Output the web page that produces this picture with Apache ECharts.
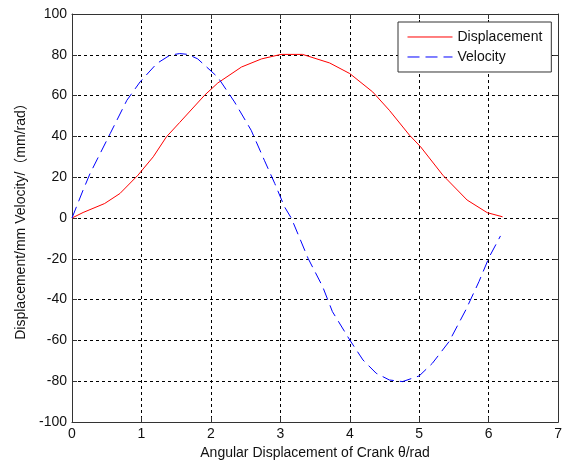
<!DOCTYPE html>
<html>
<head>
<meta charset="utf-8">
<script src="https://cdn.jsdelivr.net/npm/echarts@6/dist/echarts.min.js"></script>
<style>
html,body{margin:0;padding:0;background:#fff;}
#chart{width:565px;height:465px;}
</style>
</head>
<body>
<div id="chart"></div>
<script>
// Displacement curve (theta in rad, displacement in mm)
var dispTheta = [0, 0.16, 0.47, 0.69, 0.95, 1.17, 1.36, 1.55, 1.91, 2.10, 2.44, 2.73, 3.01, 3.32, 3.71, 4.0, 4.33, 4.57, 4.86, 5.02, 5.34, 5.69, 5.98, 6.2];
var dispValues = [0, 2.7, 7.1, 12, 21, 30, 39.8, 46.8, 60.2, 66.2, 74, 78, 80.2, 80.2, 76, 70.8, 61.8, 52.8, 40.6, 34.9, 21, 8.8, 2.6, 0.6];
// Velocity curve (theta in rad, velocity in mm/rad)
var velTheta = [0, 0.16, 0.26, 0.55, 0.79, 0.98, 1.22, 1.41, 1.55, 1.67, 1.81, 2.10, 2.34, 2.58, 2.77, 2.92, 3.06, 3.16, 3.40, 3.61, 3.75, 4.0, 4.19, 4.38, 4.57, 4.76, 5.0, 5.19, 5.43, 5.67, 5.86, 6.01, 6.17];
var velValues = [0, 13.7, 21.8, 41.4, 57.7, 66.7, 75.7, 79.8, 80.6, 80.2, 78, 69, 56.9, 43, 28.3, 16.9, 5.5, -0.2, -19.8, -33.7, -45.9, -59.8, -69.6, -76.1, -79.4, -80.2, -77.4, -71.2, -60.6, -45.1, -31.2, -19, -8.8];
var seriesNames = ['Displacement', 'Velocity'];
var xTicks = [0, 1, 2, 3, 4, 5, 6, 7];
var yTicks = [-100, -80, -60, -40, -20, 0, 20, 40, 60, 80, 100];
var xAxisName = 'Angular Displacement of Crank θ/rad';
var yAxisName = 'Displacement/mm Velocity/（mm/rad）';

function pairs(xs, ys) { return xs.map(function (x, i) { return [x, ys[i]]; }); }

var FONT = '"Liberation Sans", Arial, "Noto Sans CJK SC", sans-serif';
var frameColor = '#333';
var chart = echarts.init(document.getElementById('chart'), null, {renderer: 'canvas'});
var gridLine = {show: true, lineStyle: {color: '#000', type: [3, 3], width: 1}};
var option = {
  backgroundColor: '#fff',
  animation: false,
  textStyle: {fontFamily: FONT},
  grid: {left: 72, right: 6, top: 14, bottom: 43, containLabel: false},
  legend: {
    orient: 'vertical',
    left: 398, top: 22,
    padding: [8, 9, 8, 9],
    itemGap: 6,
    itemWidth: 45, itemHeight: 14,
    borderColor: '#333', borderWidth: 1,
    backgroundColor: '#fff',
    itemStyle: {opacity: 0},
    lineStyle: {width: 1},
    textStyle: {fontSize: 14, color: '#111', fontFamily: FONT},
    data: seriesNames
  },
  xAxis: [{
    type: 'value', min: xTicks[0], max: xTicks[xTicks.length - 1], interval: 1,
    position: 'bottom',
    axisLine: {show: true, onZero: false, lineStyle: {color: frameColor, width: 1}},
    axisTick: {show: true, inside: true, length: 5, lineStyle: {color: frameColor}},
    axisLabel: {fontSize: 14, color: '#111', margin: 5, fontFamily: FONT},
    splitLine: gridLine,
    name: xAxisName, nameLocation: 'middle', nameGap: 24,
    nameTextStyle: {fontSize: 14, color: '#111', fontFamily: FONT}
  }, {
    type: 'value', min: xTicks[0], max: xTicks[xTicks.length - 1], interval: 1,
    position: 'top',
    axisLine: {show: true, onZero: false, lineStyle: {color: frameColor, width: 1}},
    axisTick: {show: true, inside: true, length: 5, lineStyle: {color: frameColor}},
    axisLabel: {show: false},
    splitLine: {show: false}
  }],
  yAxis: [{
    type: 'value', min: yTicks[0], max: yTicks[yTicks.length - 1], interval: 20,
    position: 'left',
    axisLine: {show: true, onZero: false, lineStyle: {color: frameColor, width: 1}},
    axisTick: {show: true, inside: true, length: 5, lineStyle: {color: frameColor}},
    axisLabel: {fontSize: 14, color: '#111', margin: 5, fontFamily: FONT},
    splitLine: gridLine,
    name: yAxisName, nameLocation: 'middle', nameGap: 44, nameRotate: 90,
    nameTextStyle: {fontSize: 14, color: '#111', fontFamily: FONT}
  }, {
    type: 'value', min: yTicks[0], max: yTicks[yTicks.length - 1], interval: 20,
    position: 'right',
    axisLine: {show: true, onZero: false, lineStyle: {color: frameColor, width: 1}},
    axisTick: {show: true, inside: true, length: 5, lineStyle: {color: frameColor}},
    axisLabel: {show: false},
    splitLine: {show: false}
  }],
  series: [{
    name: seriesNames[0], type: 'line', xAxisIndex: 0, yAxisIndex: 0,
    data: pairs(dispTheta, dispValues),
    symbol: 'none', showSymbol: false, smooth: false,
    itemStyle: {color: '#ff0000'},
    lineStyle: {color: '#ff0000', width: 1, type: 'solid'},
    z: 3
  }, {
    name: seriesNames[1], type: 'line', xAxisIndex: 0, yAxisIndex: 0,
    data: pairs(velTheta, velValues),
    symbol: 'none', showSymbol: false, smooth: false,
    itemStyle: {color: '#0000ff'},
    lineStyle: {color: '#0000ff', width: 1, type: [12, 6]},
    z: 3
  }]
};
chart.setOption(option);
</script>
</body>
</html>
